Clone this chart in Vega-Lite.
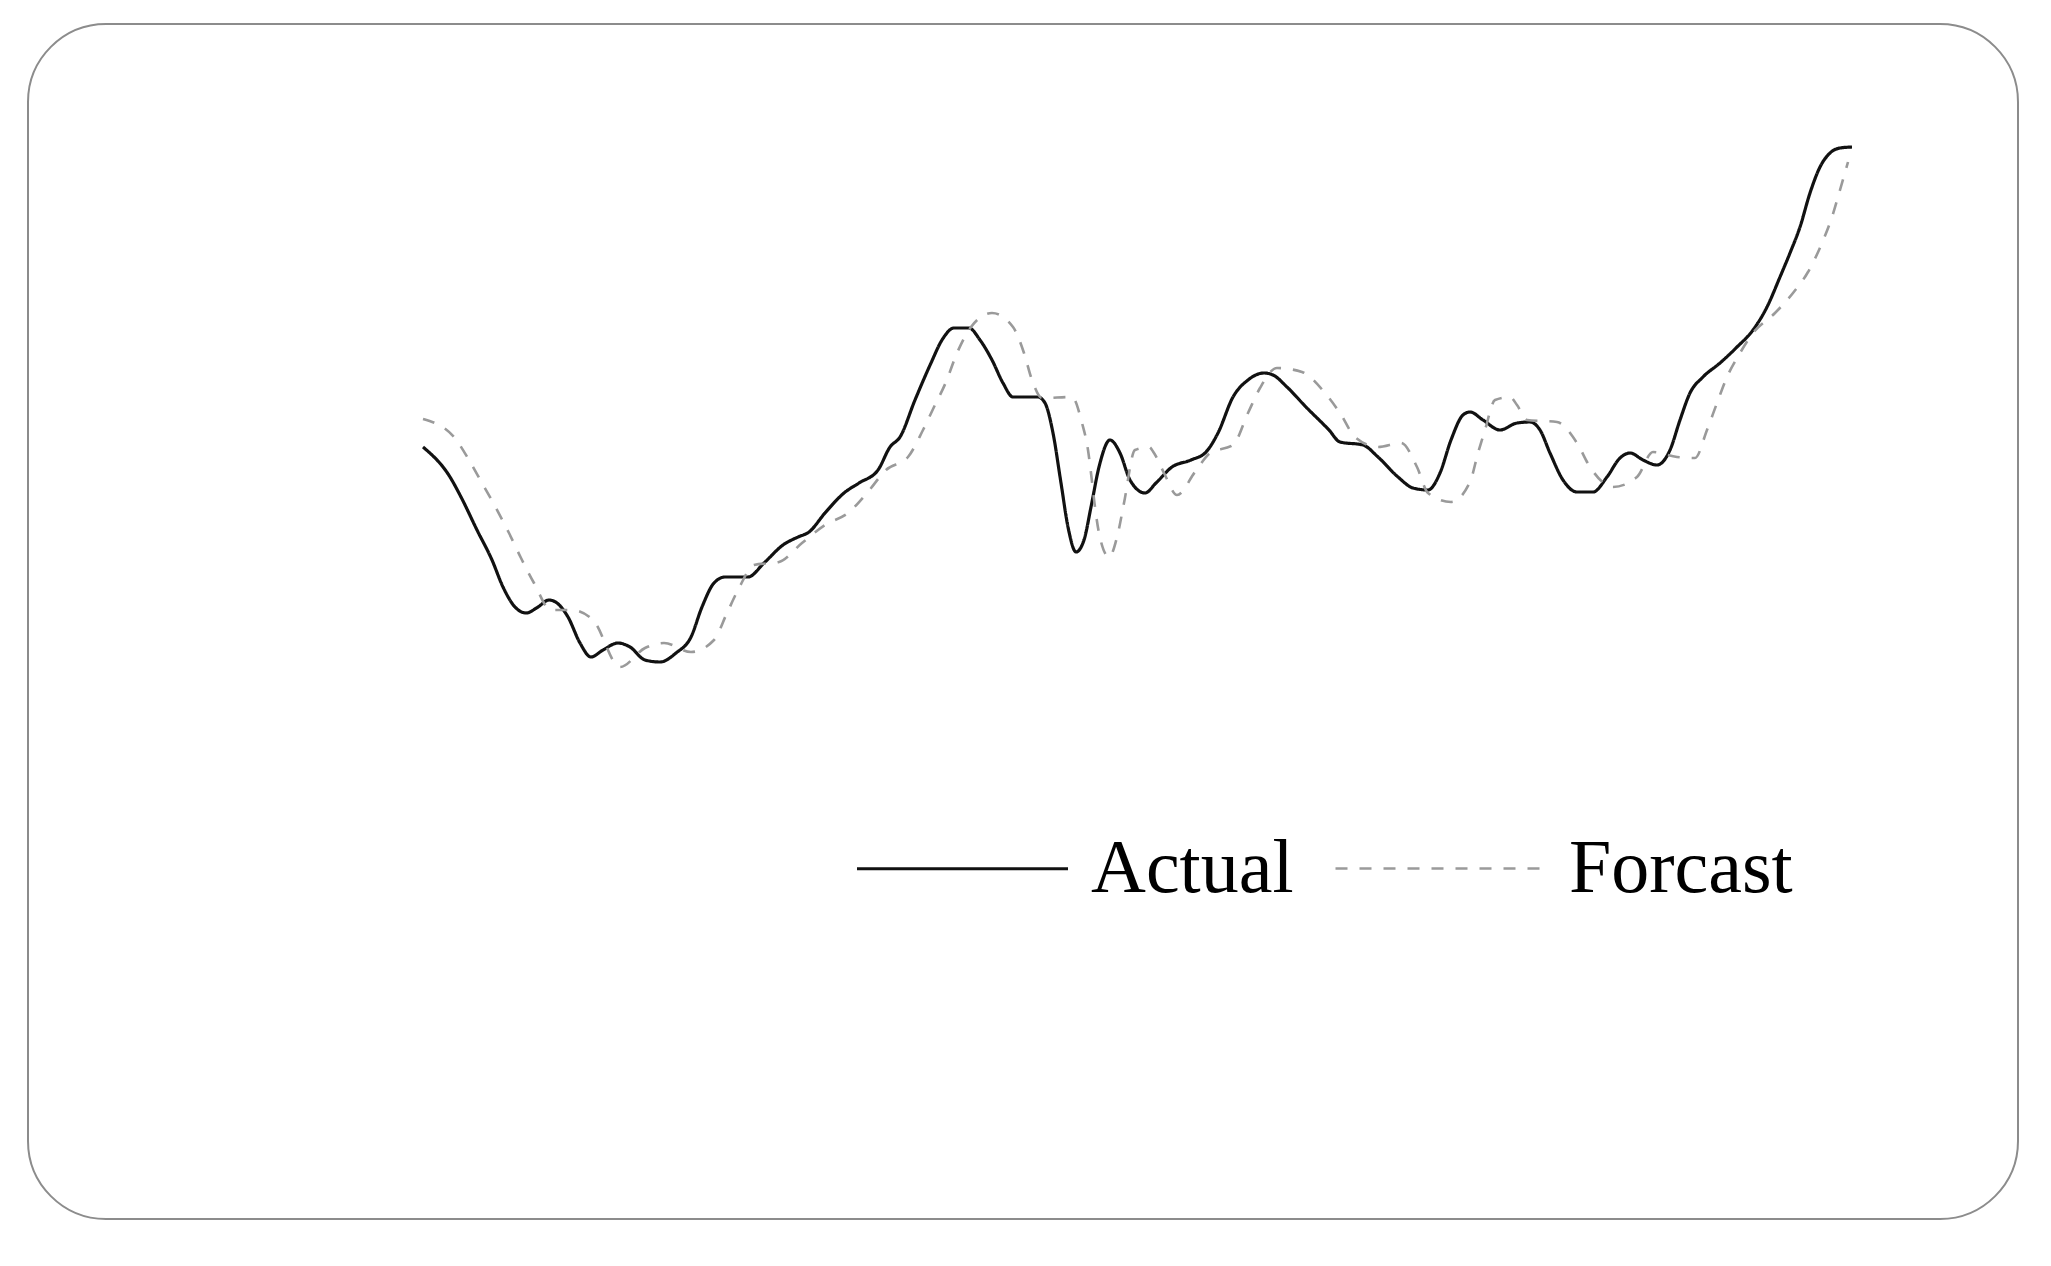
{
  "$schema": "https://vega.github.io/schema/vega-lite/v6.json",
  "autosize": {"type": "none"},
  "padding": {"left": 28, "top": 24, "right": 33, "bottom": 46},
  "width": 1990,
  "height": 1195,
  "background": "white",
  "config": {
    "view": {"stroke": "#8c8c8c", "strokeWidth": 2, "cornerRadius": 78}
  },
  "data": {
    "values": [
      {"t": 39.5, "v": 77.2, "series": "Actual"},
      {"t": 42.2, "v": 74.2, "series": "Actual"},
      {"t": 43.3, "v": 72.2, "series": "Actual"},
      {"t": 44.9, "v": 68.9, "series": "Actual"},
      {"t": 46.4, "v": 65.9, "series": "Actual"},
      {"t": 47.5, "v": 63.2, "series": "Actual"},
      {"t": 48.7, "v": 61.2, "series": "Actual"},
      {"t": 49.8, "v": 60.6, "series": "Actual"},
      {"t": 51.0, "v": 61.2, "series": "Actual"},
      {"t": 52.1, "v": 61.9, "series": "Actual"},
      {"t": 52.9, "v": 61.6, "series": "Actual"},
      {"t": 54.0, "v": 60.2, "series": "Actual"},
      {"t": 55.2, "v": 57.6, "series": "Actual"},
      {"t": 56.3, "v": 56.2, "series": "Actual"},
      {"t": 57.5, "v": 56.9, "series": "Actual"},
      {"t": 59.0, "v": 57.6, "series": "Actual"},
      {"t": 60.2, "v": 57.2, "series": "Actual"},
      {"t": 61.7, "v": 55.9, "series": "Actual"},
      {"t": 63.2, "v": 55.7, "series": "Actual"},
      {"t": 64.8, "v": 56.6, "series": "Actual"},
      {"t": 66.3, "v": 58.2, "series": "Actual"},
      {"t": 67.4, "v": 61.2, "series": "Actual"},
      {"t": 68.6, "v": 63.6, "series": "Actual"},
      {"t": 69.7, "v": 64.2, "series": "Actual"},
      {"t": 72.0, "v": 64.2, "series": "Actual"},
      {"t": 73.6, "v": 65.6, "series": "Actual"},
      {"t": 75.5, "v": 67.4, "series": "Actual"},
      {"t": 77.0, "v": 68.2, "series": "Actual"},
      {"t": 78.1, "v": 68.7, "series": "Actual"},
      {"t": 79.7, "v": 70.6, "series": "Actual"},
      {"t": 81.6, "v": 72.6, "series": "Actual"},
      {"t": 83.1, "v": 73.6, "series": "Actual"},
      {"t": 85.0, "v": 74.9, "series": "Actual"},
      {"t": 86.2, "v": 77.2, "series": "Actual"},
      {"t": 87.2, "v": 78.2, "series": "Actual"},
      {"t": 88.7, "v": 81.9, "series": "Actual"},
      {"t": 90.3, "v": 85.6, "series": "Actual"},
      {"t": 91.4, "v": 87.9, "series": "Actual"},
      {"t": 92.6, "v": 89.1, "series": "Actual"},
      {"t": 94.1, "v": 89.1, "series": "Actual"},
      {"t": 95.2, "v": 87.9, "series": "Actual"},
      {"t": 96.4, "v": 85.9, "series": "Actual"},
      {"t": 97.5, "v": 83.6, "series": "Actual"},
      {"t": 98.5, "v": 82.2, "series": "Actual"},
      {"t": 101.0, "v": 82.2, "series": "Actual"},
      {"t": 101.7, "v": 81.6, "series": "Actual"},
      {"t": 102.5, "v": 78.6, "series": "Actual"},
      {"t": 103.3, "v": 73.6, "series": "Actual"},
      {"t": 104.0, "v": 69.2, "series": "Actual"},
      {"t": 104.8, "v": 66.7, "series": "Actual"},
      {"t": 105.6, "v": 67.9, "series": "Actual"},
      {"t": 106.3, "v": 71.2, "series": "Actual"},
      {"t": 107.1, "v": 75.2, "series": "Actual"},
      {"t": 108.2, "v": 77.9, "series": "Actual"},
      {"t": 109.2, "v": 76.6, "series": "Actual"},
      {"t": 110.2, "v": 73.9, "series": "Actual"},
      {"t": 111.7, "v": 72.6, "series": "Actual"},
      {"t": 112.8, "v": 73.6, "series": "Actual"},
      {"t": 114.4, "v": 75.2, "series": "Actual"},
      {"t": 116.3, "v": 75.9, "series": "Actual"},
      {"t": 117.8, "v": 76.7, "series": "Actual"},
      {"t": 119.0, "v": 78.6, "series": "Actual"},
      {"t": 120.5, "v": 82.2, "series": "Actual"},
      {"t": 122.0, "v": 83.9, "series": "Actual"},
      {"t": 123.6, "v": 84.6, "series": "Actual"},
      {"t": 124.5, "v": 84.4, "series": "Actual"},
      {"t": 125.9, "v": 83.2, "series": "Actual"},
      {"t": 127.8, "v": 81.2, "series": "Actual"},
      {"t": 130.1, "v": 78.9, "series": "Actual"},
      {"t": 131.2, "v": 77.7, "series": "Actual"},
      {"t": 133.5, "v": 77.4, "series": "Actual"},
      {"t": 135.0, "v": 76.2, "series": "Actual"},
      {"t": 137.0, "v": 74.2, "series": "Actual"},
      {"t": 138.5, "v": 73.1, "series": "Actual"},
      {"t": 140.0, "v": 72.9, "series": "Actual"},
      {"t": 141.2, "v": 74.6, "series": "Actual"},
      {"t": 142.3, "v": 77.9, "series": "Actual"},
      {"t": 143.5, "v": 80.4, "series": "Actual"},
      {"t": 144.2, "v": 80.7, "series": "Actual"},
      {"t": 145.5, "v": 79.9, "series": "Actual"},
      {"t": 147.2, "v": 78.9, "series": "Actual"},
      {"t": 148.9, "v": 79.6, "series": "Actual"},
      {"t": 150.2, "v": 79.7, "series": "Actual"},
      {"t": 151.2, "v": 78.9, "series": "Actual"},
      {"t": 152.2, "v": 76.6, "series": "Actual"},
      {"t": 153.5, "v": 73.9, "series": "Actual"},
      {"t": 154.9, "v": 72.7, "series": "Actual"},
      {"t": 156.5, "v": 72.7, "series": "Actual"},
      {"t": 157.9, "v": 74.2, "series": "Actual"},
      {"t": 159.2, "v": 76.1, "series": "Actual"},
      {"t": 160.2, "v": 76.6, "series": "Actual"},
      {"t": 161.5, "v": 75.9, "series": "Actual"},
      {"t": 162.9, "v": 75.4, "series": "Actual"},
      {"t": 164.2, "v": 76.9, "series": "Actual"},
      {"t": 165.2, "v": 79.9, "series": "Actual"},
      {"t": 166.2, "v": 82.6, "series": "Actual"},
      {"t": 167.5, "v": 84.2, "series": "Actual"},
      {"t": 169.2, "v": 85.6, "series": "Actual"},
      {"t": 170.9, "v": 87.2, "series": "Actual"},
      {"t": 172.5, "v": 88.9, "series": "Actual"},
      {"t": 173.9, "v": 91.2, "series": "Actual"},
      {"t": 175.2, "v": 94.2, "series": "Actual"},
      {"t": 176.2, "v": 96.6, "series": "Actual"},
      {"t": 177.2, "v": 99.2, "series": "Actual"},
      {"t": 178.2, "v": 102.6, "series": "Actual"},
      {"t": 179.2, "v": 105.2, "series": "Actual"},
      {"t": 180.2, "v": 106.6, "series": "Actual"},
      {"t": 181.2, "v": 107.1, "series": "Actual"},
      {"t": 182.4, "v": 107.2, "series": "Actual"},

      {"t": 39.5, "v": 80.0, "series": "Forcast"},
      {"t": 42.6, "v": 78.2, "series": "Forcast"},
      {"t": 44.1, "v": 75.9, "series": "Forcast"},
      {"t": 45.4, "v": 73.6, "series": "Forcast"},
      {"t": 46.8, "v": 71.1, "series": "Forcast"},
      {"t": 48.1, "v": 68.6, "series": "Forcast"},
      {"t": 49.3, "v": 66.1, "series": "Forcast"},
      {"t": 50.6, "v": 63.6, "series": "Forcast"},
      {"t": 52.3, "v": 60.9, "series": "Forcast"},
      {"t": 54.4, "v": 60.9, "series": "Forcast"},
      {"t": 56.5, "v": 59.9, "series": "Forcast"},
      {"t": 59.2, "v": 55.2, "series": "Forcast"},
      {"t": 61.7, "v": 57.1, "series": "Forcast"},
      {"t": 63.6, "v": 57.6, "series": "Forcast"},
      {"t": 66.3, "v": 56.7, "series": "Forcast"},
      {"t": 68.6, "v": 57.9, "series": "Forcast"},
      {"t": 69.9, "v": 60.6, "series": "Forcast"},
      {"t": 71.1, "v": 63.1, "series": "Forcast"},
      {"t": 72.6, "v": 65.4, "series": "Forcast"},
      {"t": 75.1, "v": 65.7, "series": "Forcast"},
      {"t": 77.4, "v": 67.6, "series": "Forcast"},
      {"t": 79.7, "v": 69.4, "series": "Forcast"},
      {"t": 82.0, "v": 70.6, "series": "Forcast"},
      {"t": 83.9, "v": 72.6, "series": "Forcast"},
      {"t": 85.8, "v": 74.9, "series": "Forcast"},
      {"t": 88.0, "v": 76.2, "series": "Forcast"},
      {"t": 89.5, "v": 78.9, "series": "Forcast"},
      {"t": 90.6, "v": 81.2, "series": "Forcast"},
      {"t": 91.8, "v": 83.7, "series": "Forcast"},
      {"t": 92.9, "v": 86.6, "series": "Forcast"},
      {"t": 94.3, "v": 89.2, "series": "Forcast"},
      {"t": 96.4, "v": 90.6, "series": "Forcast"},
      {"t": 98.5, "v": 89.2, "series": "Forcast"},
      {"t": 99.6, "v": 86.6, "series": "Forcast"},
      {"t": 100.4, "v": 83.9, "series": "Forcast"},
      {"t": 101.4, "v": 82.1, "series": "Forcast"},
      {"t": 104.4, "v": 82.2, "series": "Forcast"},
      {"t": 105.4, "v": 79.6, "series": "Forcast"},
      {"t": 106.0, "v": 76.9, "series": "Forcast"},
      {"t": 106.3, "v": 74.6, "series": "Forcast"},
      {"t": 106.7, "v": 71.2, "series": "Forcast"},
      {"t": 107.1, "v": 68.6, "series": "Forcast"},
      {"t": 108.1, "v": 66.2, "series": "Forcast"},
      {"t": 109.0, "v": 68.6, "series": "Forcast"},
      {"t": 109.6, "v": 71.6, "series": "Forcast"},
      {"t": 110.7, "v": 76.9, "series": "Forcast"},
      {"t": 112.1, "v": 77.2, "series": "Forcast"},
      {"t": 112.6, "v": 76.6, "series": "Forcast"},
      {"t": 113.6, "v": 74.6, "series": "Forcast"},
      {"t": 114.9, "v": 72.4, "series": "Forcast"},
      {"t": 116.7, "v": 74.7, "series": "Forcast"},
      {"t": 118.2, "v": 76.6, "series": "Forcast"},
      {"t": 120.5, "v": 77.4, "series": "Forcast"},
      {"t": 122.0, "v": 80.6, "series": "Forcast"},
      {"t": 123.2, "v": 83.1, "series": "Forcast"},
      {"t": 124.9, "v": 85.1, "series": "Forcast"},
      {"t": 127.4, "v": 84.7, "series": "Forcast"},
      {"t": 129.7, "v": 82.6, "series": "Forcast"},
      {"t": 131.2, "v": 80.6, "series": "Forcast"},
      {"t": 132.7, "v": 78.2, "series": "Forcast"},
      {"t": 135.0, "v": 77.2, "series": "Forcast"},
      {"t": 137.3, "v": 77.6, "series": "Forcast"},
      {"t": 138.9, "v": 75.2, "series": "Forcast"},
      {"t": 140.0, "v": 72.6, "series": "Forcast"},
      {"t": 142.3, "v": 71.7, "series": "Forcast"},
      {"t": 144.2, "v": 73.7, "series": "Forcast"},
      {"t": 145.0, "v": 76.6, "series": "Forcast"},
      {"t": 145.7, "v": 78.9, "series": "Forcast"},
      {"t": 146.7, "v": 81.9, "series": "Forcast"},
      {"t": 148.2, "v": 82.2, "series": "Forcast"},
      {"t": 148.9, "v": 81.4, "series": "Forcast"},
      {"t": 149.9, "v": 79.9, "series": "Forcast"},
      {"t": 152.9, "v": 79.7, "series": "Forcast"},
      {"t": 154.9, "v": 77.6, "series": "Forcast"},
      {"t": 156.2, "v": 75.2, "series": "Forcast"},
      {"t": 158.5, "v": 73.2, "series": "Forcast"},
      {"t": 160.9, "v": 74.2, "series": "Forcast"},
      {"t": 162.5, "v": 76.7, "series": "Forcast"},
      {"t": 164.9, "v": 76.2, "series": "Forcast"},
      {"t": 166.7, "v": 76.1, "series": "Forcast"},
      {"t": 167.9, "v": 78.9, "series": "Forcast"},
      {"t": 168.9, "v": 81.6, "series": "Forcast"},
      {"t": 169.9, "v": 84.2, "series": "Forcast"},
      {"t": 171.2, "v": 86.6, "series": "Forcast"},
      {"t": 172.5, "v": 88.6, "series": "Forcast"},
      {"t": 174.7, "v": 90.6, "series": "Forcast"},
      {"t": 176.5, "v": 92.6, "series": "Forcast"},
      {"t": 178.0, "v": 94.7, "series": "Forcast"},
      {"t": 179.4, "v": 97.6, "series": "Forcast"},
      {"t": 180.4, "v": 100.2, "series": "Forcast"},
      {"t": 181.2, "v": 102.9, "series": "Forcast"},
      {"t": 182.0, "v": 105.7, "series": "Forcast"}
    ]
  },
  "mark": {"type": "line", "interpolate": "monotone", "strokeCap": "butt"},
  "encoding": {
    "x": {"field": "t", "type": "quantitative", "scale": {"domain": [0, 199], "nice": false, "zero": false}, "axis": null},
    "y": {"field": "v", "type": "quantitative", "scale": {"domain": [0, 119.5], "nice": false, "zero": false}, "axis": null},
    "strokeWidth": {
      "field": "series", "type": "nominal",
      "scale": {"domain": ["Actual", "Forcast"], "range": [3.2, 2.6]},
      "legend": null
    },
    "color": {
      "field": "series", "type": "nominal",
      "scale": {"domain": ["Actual", "Forcast"], "range": ["#111111", "#9a9a9a"]},
      "legend": {
        "title": null, "orient": "none", "direction": "horizontal",
        "legendX": 827, "legendY": 737,
        "symbolType": "stroke", "symbolSize": 44521, "symbolStrokeWidth": 3,
        "labelFont": "Liberation Serif", "labelFontSize": 76, "labelFontWeight": "normal",
        "labelColor": "#000000", "labelOffset": 21, "labelLimit": 500,
        "columnPadding": 36, "padding": 0, "offset": 0
      }
    },
    "strokeDash": {
      "field": "series", "type": "nominal",
      "scale": {"domain": ["Actual", "Forcast"], "range": [[1, 0], [12, 12]]},
      "legend": {
        "title": null, "orient": "none", "direction": "horizontal",
        "legendX": 827, "legendY": 737,
        "symbolType": "stroke", "symbolSize": 44521, "symbolStrokeWidth": 3,
        "labelFont": "Liberation Serif", "labelFontSize": 76, "labelFontWeight": "normal",
        "labelColor": "#000000", "labelOffset": 21, "labelLimit": 500,
        "columnPadding": 36, "padding": 0, "offset": 0
      }
    }
  }
}
